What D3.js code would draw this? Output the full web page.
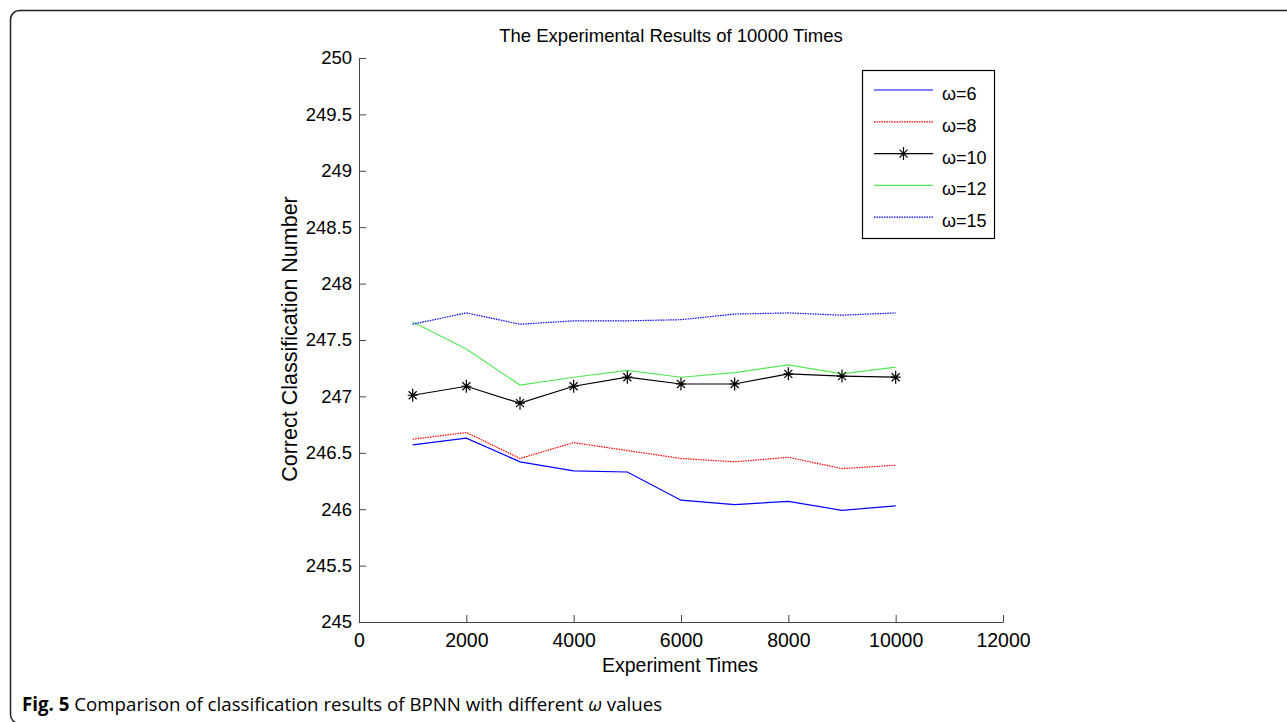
<!DOCTYPE html>
<html>
<head>
<meta charset="utf-8">
<script src="https://cdn.jsdelivr.net/npm/d3@7"></script>
<style>
  body { margin: 0; background: #fff; }
  text { font-family: "Liberation Sans", Arial, sans-serif; }
</style>
</head>
<body>
<div id="chart"></div>
<script>
// experiment times on the x axis
const times = [1000, 2000, 3000, 4000, 5000, 6000, 7000, 8000, 9000, 10000]
// correct classification number per omega value
const w6  = [246.57, 246.63, 246.42, 246.34, 246.33, 246.08, 246.04, 246.07, 245.99, 246.03]
const w8  = [246.62, 246.68, 246.45, 246.59, 246.52, 246.45, 246.42, 246.46, 246.36, 246.39]
const w10 = [247.01, 247.09, 246.94, 247.09, 247.17, 247.11, 247.11, 247.20, 247.18, 247.17]
const w12 = [247.66, 247.42, 247.10, 247.17, 247.23, 247.17, 247.21, 247.28, 247.20, 247.26]
const w15 = [247.64, 247.74, 247.64, 247.67, 247.67, 247.68, 247.73, 247.74, 247.72, 247.74]
const seriesNames = ['ω=6', 'ω=8', 'ω=10', 'ω=12', 'ω=15']
const xTicks = [0, 2000, 4000, 6000, 8000, 10000, 12000]
const yTicks = [245, 245.5, 246, 246.5, 247, 247.5, 248, 248.5, 249, 249.5, 250]

const width = 1287
const height = 722

// line styles by series: colour, dash, marker
const styles = [
  {color: '#0000ff', dash: null, marker: false},
  {color: '#ff0000', dash: '1.5,1', marker: false},
  {color: '#000000', dash: null, marker: true},
  {color: '#55e855', dash: null, marker: false},
  {color: '#0000ff', dash: '1.5,1', marker: false}
]

const series = [w6, w8, w10, w12, w15].map((vals, i) => ({
  name: seriesNames[i],
  values: times.map((t, j) => ({t: t, v: vals[j]}))
}))

const x = d3.scaleLinear().domain([0, 12000]).range([359, 1003])
const y = d3.scaleLinear().domain([245, 250]).range([622, 58])

const svg = d3.select('#chart')
  .append('svg')
    .attr('width', width)
    .attr('height', height)

// figure frame (runs off the right and bottom edges)
svg.append('rect')
  .attr('x', 10.5)
  .attr('y', 10.5)
  .attr('width', 1300)
  .attr('height', 713)
  .attr('rx', 9)
  .attr('fill', 'none')
  .attr('stroke', '#222')
  .attr('stroke-width', 1.5)

// axes, ticks point inward like matlab
svg.append('g')
  .attr('transform', `translate(0, ${y(245)})`)
  .call(d3.axisBottom(x).tickValues(xTicks).tickFormat(d3.format('d')).tickSizeInner(-7).tickSizeOuter(0).tickPadding(11))
  .call(g => g.select('.domain').attr('stroke', '#444'))
  .call(g => g.selectAll('.tick line').attr('stroke', '#444'))
  .call(g => g.selectAll('text').attr('font-size', 19.5).attr('fill', '#000'))

svg.append('g')
  .attr('transform', `translate(${x(0)}, 0)`)
  .call(d3.axisLeft(y).tickValues(yTicks).tickFormat(d => d).tickSizeInner(-7).tickSizeOuter(0).tickPadding(7))
  .call(g => g.select('.domain').attr('stroke', '#444'))
  .call(g => g.selectAll('.tick line').attr('stroke', '#444'))
  .call(g => g.selectAll('text').attr('font-size', 18.5).attr('fill', '#000'))

// title and labels
svg.append('text')
  .attr('x', 671)
  .attr('y', 42)
  .attr('text-anchor', 'middle')
  .attr('font-size', 18.5)
  .text('The Experimental Results of 10000 Times')

svg.append('text')
  .attr('x', 680)
  .attr('y', 672)
  .attr('text-anchor', 'middle')
  .attr('font-size', 19.5)
  .text('Experiment Times')

svg.append('text')
  .attr('transform', `translate(297, 339) rotate(-90)`)
  .attr('text-anchor', 'middle')
  .attr('font-size', 21.5)
  .text('Correct Classification Number')

// asterisk marker path
const star = 'M0,-6.5V6.5M-5,0H5M-4,-4L4,4M-4,4L4,-4'

const line = d3.line()
  .x(d => x(d.t))
  .y(d => y(d.v))

const plot = svg.append('g')

plot.selectAll('path.series')
  .data(series)
  .join('path')
    .attr('class', 'series')
    .attr('d', d => line(d.values))
    .attr('fill', 'none')
    .attr('stroke', (d, i) => styles[i].color)
    .attr('stroke-width', 1.2)
    .attr('stroke-dasharray', (d, i) => styles[i].dash)

plot.selectAll('g.markers')
  .data(series.filter((d, i) => styles[i].marker))
  .join('g')
    .attr('class', 'markers')
  .selectAll('path')
    .data(d => d.values)
    .join('path')
      .attr('d', star)
      .attr('transform', d => `translate(${x(d.t)}, ${y(d.v)})`)
      .attr('fill', 'none')
      .attr('stroke', '#000')
      .attr('stroke-width', 1.2)

// legend
const legend = svg.append('g')
legend.append('rect')
  .attr('x', 862.5)
  .attr('y', 70.5)
  .attr('width', 132)
  .attr('height', 168)
  .attr('fill', '#fff')
  .attr('stroke', '#000')
  .attr('stroke-width', 1.2)

const rows = legend.selectAll('g.row')
  .data(series)
  .join('g')
    .attr('class', 'row')
    .attr('transform', (d, i) => `translate(0, ${90 + i * 31.8})`)

rows.append('line')
  .attr('x1', 874)
  .attr('x2', 933)
  .attr('stroke', (d, i) => styles[i].color)
  .attr('stroke-width', 1.2)
  .attr('stroke-dasharray', (d, i) => styles[i].dash)

rows.filter((d, i) => styles[i].marker)
  .append('path')
    .attr('d', star)
    .attr('transform', 'translate(903.5, 0)')
    .attr('fill', 'none')
    .attr('stroke', '#000')
    .attr('stroke-width', 1.2)

rows.append('text')
  .attr('x', 942)
  .attr('y', 10)
  .attr('font-size', 18)
  .text(d => d.name)

// caption
const cap = svg.append('text')
  .attr('x', 22)
  .attr('y', 711)
  .attr('font-size', 18.7)
  .style('font-family', '"Open Sans", sans-serif')
cap.append('tspan').attr('font-weight', 'bold').text('Fig. 5')
cap.append('tspan').text(' Comparison of classification results of BPNN with different ')
cap.append('tspan').attr('font-style', 'italic').text('ω')
cap.append('tspan').text(' values')
</script>
</body>
</html>
